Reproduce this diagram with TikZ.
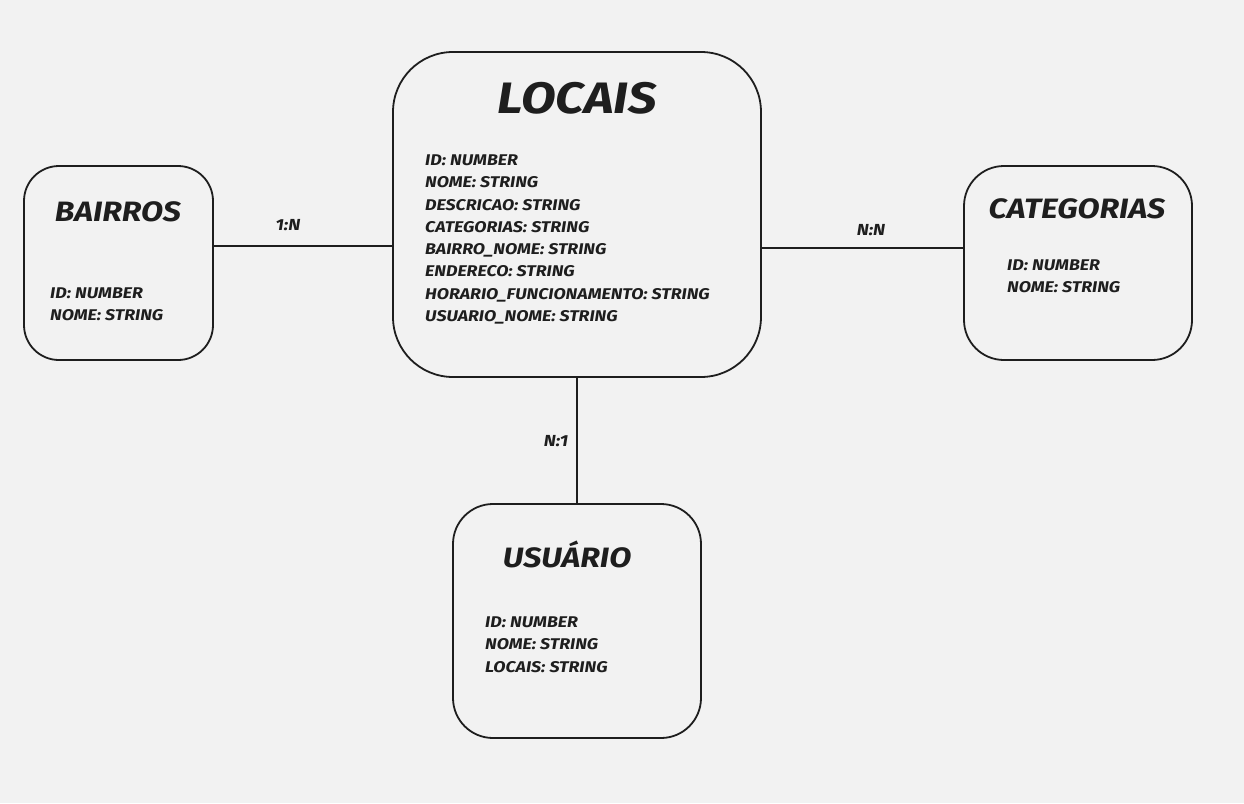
\documentclass[tikz,border=0pt]{standalone}
\usepackage{fontspec}
\setmainfont{Fira Sans}
\newfontfamily\hand[FakeStretch=1.15]{Fira Sans}
\begin{document}
\begin{tikzpicture}[x=1pt,y=-1pt,
  box/.style={draw=ink,line width=1.8pt,fill=none,inner sep=0pt},
  ttl/.style={font=\hand\bfseries\itshape\fontsize{28}{30}\selectfont,text=ink,inner sep=0pt},
  attr/.style={font=\hand\bfseries\itshape\fontsize{15.5}{22.3}\selectfont,text=ink,align=left,anchor=north west,inner sep=0pt},
  lbl/.style={font=\hand\bfseries\itshape\fontsize{16}{18}\selectfont,text=ink,inner sep=0pt},
  conn/.style={draw=ink,line width=1.5pt}]
\definecolor{ink}{HTML}{1E1E1E}
\definecolor{bg}{HTML}{F2F2F2}
\fill[bg] (0,0) rectangle (1244,803);
\useasboundingbox (0,0) rectangle (1244,803);
% boxes
\draw[box,rounded corners=60] (393,52) rectangle (761,377);
\node[minimum width=368pt,minimum height=325pt,inner sep=0pt] (locais) at (577,214.5) {};
\draw[box,rounded corners=35] (24,166) rectangle (213,360);
\node[minimum width=189pt,minimum height=194pt,inner sep=0pt] (bairros) at (118.5,263) {};
\draw[box,rounded corners=40] (964,166) rectangle (1192,360);
\node[minimum width=228pt,minimum height=194pt,inner sep=0pt] (categorias) at (1078,263) {};
\draw[box,rounded corners=40] (453,504) rectangle (701,738);
\node[minimum width=248pt,minimum height=234pt,inner sep=0pt] (usuario) at (577,621) {};
% titles
\node[ttl,font=\hand\bfseries\itshape\fontsize{44}{46}\selectfont] (tl) at (577,98) {LOCAIS};
\node[ttl] (tb) at (118,212) {BAIRROS};
\node[ttl] (tc) at (1077,209) {CATEGORIAS};
\node[ttl] (tu) at (567,554) {USUÁRIO};
% attributes
\node[attr] (al) at (425,154.5) {ID: NUMBER\\NOME: STRING\\DESCRICAO: STRING\\CATEGORIAS: STRING\\BAIRRO\_NOME: STRING\\ENDERECO: STRING\\HORARIO\_FUNCIONAMENTO: STRING\\USUARIO\_NOME: STRING};
\node[attr] (ab) at (50,287.5) {ID: NUMBER\\NOME: STRING};
\node[attr] (ac) at (1007,259.5) {ID: NUMBER\\NOME: STRING};
\node[attr] (au) at (485,616.5) {ID: NUMBER\\NOME: STRING\\LOCAIS: STRING};
% connectors
\coordinate (y1) at (0,246);
\coordinate (y2) at (0,248);
\draw[conn] (bairros.east |- y1) -- (locais.west |- y1);
\draw[conn] (locais.east |- y2) -- (categorias.west |- y2);
\draw[conn] (locais.south) -- (usuario.north);
% labels
\node[lbl] (l1) at (288,225) {1:N};
\node[lbl] (l2) at (871,230) {N:N};
\node[lbl] (l3) at (556,441) {N:1};
\end{tikzpicture}
\end{document}
